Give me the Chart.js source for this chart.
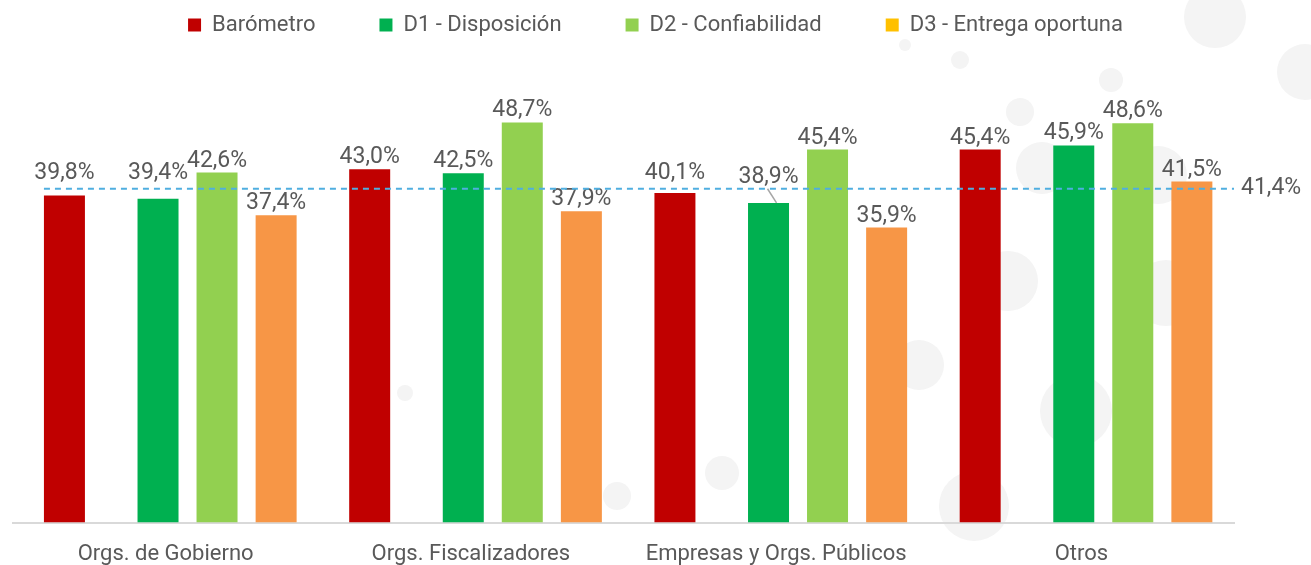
<!DOCTYPE html>
<html>
<head>
<meta charset="utf-8">
<script src="https://cdn.jsdelivr.net/npm/chart.js@4.4.1/dist/chart.umd.min.js"></script>
<style>
  html, body { margin: 0; padding: 0; background: #fff; }
  #wrap { position: relative; width: 1311px; height: 565px; overflow: hidden; }
  .bub { position: absolute; border-radius: 50%; background: #f4f4f4; }
  canvas { position: absolute; left: 0; top: 0; }
</style>
</head>
<body>
<div id="wrap">
  <canvas id="chart" width="1311" height="565"></canvas>
</div>
<script>
const categories = ["Orgs. de Gobierno", "Orgs. Fiscalizadores", "Empresas y Orgs. Públicos", "Otros"];
const seriesNames = ["Barómetro", "D1 - Disposición", "D2 - Confiabilidad", "D3 - Entrega oportuna"];
const barometro = [39.8, 43.0, 40.1, 45.4];
const d1Disposicion = [39.4, 42.5, 38.9, 45.9];
const d2Confiabilidad = [42.6, 48.7, 45.4, 48.6];
const d3Entrega = [37.4, 37.9, 35.9, 41.5];
const promedio = 41.4;

const barColors = ["#C00000", "#00B050", "#92D050", "#F79646"];
const legendColors = ["#C00000", "#00B050", "#92D050", "#FFC000"];
const textColor = "#595959";

// decorative background bubbles
const bubbles = [
  [1215, 17, 31], [1305, 72, 28], [1158, 175, 29], [1020, 112, 14], [1008, 281, 30],
  [919, 365, 25], [1076, 411, 36], [974, 506, 35], [1166, 293, 33], [722, 473, 17],
  [617, 496, 14], [1042, 168, 26], [905, 45, 6], [960, 60, 9], [405, 393, 8],
  [378, 454, 9], [1111, 80, 12]
];
const wrap = document.getElementById("wrap");
bubbles.forEach(([x, y, r]) => {
  const d = document.createElement("div");
  d.className = "bub";
  d.style.left = (x - r) + "px";
  d.style.top = (y - r) + "px";
  d.style.width = d.style.height = (2 * r) + "px";
  wrap.insertBefore(d, wrap.firstChild);
});

// each series sits at its own offset inside the category (fractions of a category)
const slotOffsets = [-0.3315, -0.0249, 0.1684, 0.362];
const barWidth = 0.1343;
function place(k) {
  const n = slotOffsets.length;
  const f = (k + 0.5) / n - 0.5;
  const size = slotOffsets[k] / f;
  return { categoryPercentage: size, barPercentage: barWidth / (size / n) };
}

const fmt = (v) => v.toFixed(1).replace(".", ",") + "%";

// label tweaks: [dataset, index] -> extra drop and leader line
const labelTweaks = { "1-2": { dy: 4, leader: true } };

const valueLabels = {
  id: "valueLabels",
  afterDatasetsDraw(chart) {
    const ctx = chart.ctx;
    const lineY = chart.scales.y2.getPixelForValue(promedio);
    ctx.save();
    ctx.font = "23px Roboto";
    ctx.fillStyle = textColor;
    ctx.textAlign = "center";
    ctx.textBaseline = "alphabetic";
    chart.data.datasets.forEach((ds, di) => {
      const meta = chart.getDatasetMeta(di);
      meta.data.forEach((bar, i) => {
        let base = bar.y - 6;
        let moved = false;
        if (base + 3 > lineY && base - 15 < lineY) { base = lineY - 10; moved = true; }
        const tw = labelTweaks[di + "-" + i];
        if (tw && moved) {
          base += tw.dy;
          if (tw.leader) {
            ctx.strokeStyle = "#a6a6a6";
            ctx.lineWidth = 1.5;
            ctx.beginPath();
            ctx.moveTo(bar.x - 1, base + 6);
            ctx.lineTo(bar.x + 8, bar.y);
            ctx.stroke();
          }
        }
        ctx.fillText(fmt(ds.data[i]), bar.x, base);
      });
    });
    ctx.restore();
  }
};

const avgLine = {
  id: "avgLine",
  afterDatasetsDraw(chart) {
    const ctx = chart.ctx;
    const y = chart.scales.y2.getPixelForValue(promedio);
    const first = chart.getDatasetMeta(0).data[0];
    const x0 = first.x - first.width / 2;
    const x1 = chart.chartArea.right;
    ctx.save();
    ctx.strokeStyle = "#4FAEE0";
    ctx.lineWidth = 2;
    ctx.setLineDash([6, 5]);
    ctx.beginPath();
    ctx.moveTo(x0, y);
    ctx.lineTo(x1, y);
    ctx.stroke();
    ctx.font = "23px Roboto";
    ctx.fillStyle = textColor;
    ctx.textAlign = "left";
    ctx.textBaseline = "middle";
    ctx.fillText(fmt(promedio), x1 + 7, y);
    ctx.restore();
  }
};

// center the legend on the whole canvas rather than on the plot area
const centerLegend = {
  id: "centerLegend",
  afterLayout(chart) {
    const lg = chart.legend;
    const dx = chart.width / 2 - (lg.left + lg.right) / 2;
    lg.left += dx;
    lg.right += dx;
  }
};

const seriesData = [barometro, d1Disposicion, d2Confiabilidad, d3Entrega];
const datasets = seriesData.map((data, k) => Object.assign({
  label: seriesNames[k],
  data: data,
  backgroundColor: barColors[k],
  borderWidth: 0,
  yAxisID: "y"
}, place(k)));

new Chart(document.getElementById("chart"), {
  type: "bar",
  data: { labels: categories, datasets: datasets },
  options: {
    responsive: false,
    animation: false,
    layout: { padding: { left: 13, right: 77, top: -50, bottom: -22 } },
    plugins: {
      tooltip: { enabled: false },
      legend: {
        position: "top",
        labels: {
          boxWidth: 13,
          boxHeight: 13,
          padding: 64,
          color: textColor,
          font: { family: "Roboto", size: 22 },
          generateLabels(chart) {
            const items = Chart.defaults.plugins.legend.labels.generateLabels(chart);
            items.forEach((it, i) => {
              it.fillStyle = legendColors[i];
              it.strokeStyle = legendColors[i];
              it.lineWidth = 0;
            });
            return items;
          }
        }
      }
    },
    scales: {
      x: {
        grid: { display: false, drawTicks: false },
        border: { display: true, color: "#D9D9D9", width: 2 },
        ticks: { color: textColor, font: { family: "Roboto", size: 22 }, padding: 19, maxRotation: 0 }
      },
      y: { display: false, min: 0, max: 58 },
      y2: { display: false, min: 0, max: 59.1 }
    }
  },
  plugins: [valueLabels, avgLine, centerLegend]
});
</script>
</body>
</html>
